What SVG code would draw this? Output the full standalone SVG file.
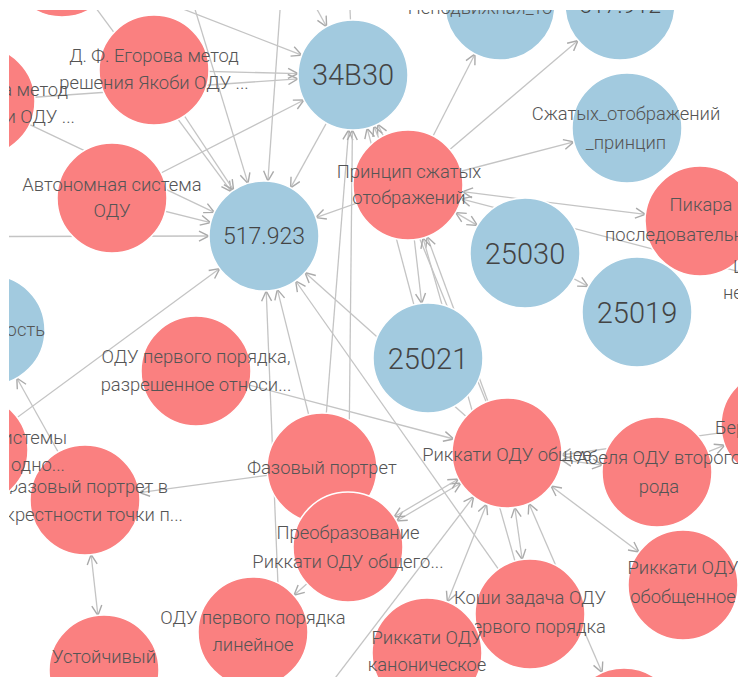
<svg xmlns="http://www.w3.org/2000/svg" width="738" height="677" viewBox="0 0 738 677">
<style>
.e{stroke:#c4c4c4;stroke-width:1.3;fill:none}
.a{marker-end:url(#ar)}
.b{marker-start:url(#ar);marker-end:url(#ar)}
.r{fill:#fa8080;stroke:#fff;stroke-width:1.5}
.u{fill:#a2cadf;stroke:#fff;stroke-width:1.5}
text{font-family:Roboto,"Liberation Sans",sans-serif;fill:#555;font-weight:300}
.t{font-size:18.4px;text-anchor:middle}
.s{font-size:18.4px}
.n{font-size:29px;text-anchor:middle;fill:#444}
.m{font-size:23px;text-anchor:middle;fill:#444}
</style>
<defs>
<marker id="ar" viewBox="0 0 12 12" refX="11" refY="6" markerWidth="12" markerHeight="12" markerUnits="userSpaceOnUse" orient="auto-start-reverse">
<path d="M1,1 L11,6 L1,11" fill="none" stroke="#aaa" stroke-width="1.4"/>
</marker>
<clipPath id="c"><rect x="9" y="10" width="729" height="667"/></clipPath>
</defs>
<rect width="738" height="677" fill="#fff"/>
<g clip-path="url(#c)">
<g id="edges">
<line class="e a" x1="62" y1="-38" x2="231.4" y2="191.7"/>
<line class="e a" x1="62" y1="-38" x2="301.7" y2="55.1"/>
<line class="e a" x1="180" y1="-40" x2="248" y2="183.4"/>
<line class="e a" x1="285" y1="-60" x2="267.9" y2="181.1"/>
<line class="e a" x1="353" y1="75" x2="290.6" y2="187.9"/>
<line class="e a" x1="290" y1="-40" x2="326.6" y2="26.8"/>
<line class="e a" x1="154" y1="70" x2="298" y2="73.6"/>
<line class="e a" x1="-20" y1="101" x2="298.1" y2="78.8"/>
<line class="e a" x1="112" y1="198" x2="304" y2="100"/>
<line class="e a" x1="154" y1="70" x2="233.6" y2="190.2"/>
<line class="e a" x1="-20" y1="101" x2="214.3" y2="212.4"/>
<line class="e a" x1="112" y1="198" x2="210.6" y2="222.7"/>
<line class="e a" x1="-200" y1="237" x2="209" y2="236"/>
<line class="e a" x1="-27" y1="450" x2="219.7" y2="268.6"/>
<line class="e a" x1="322" y1="468" x2="277.3" y2="289.4"/>
<line class="e a" x1="285" y1="760" x2="266.2" y2="291"/>
<line class="e a" x1="530" y1="614" x2="295.7" y2="281"/>
<line class="e a" x1="507" y1="453" x2="305" y2="272.6"/>
<line class="e a" x1="408" y1="185" x2="315.8" y2="217.6"/>
<line class="e a" x1="322" y1="468" x2="348.7" y2="129.8"/>
<line class="e a" x1="348" y1="547" x2="352.4" y2="130"/>
<line class="e a" x1="408" y1="185" x2="377.6" y2="124.2"/>
<line class="e a" x1="428" y1="358" x2="367.1" y2="128.2"/>
<line class="e a" x1="507" y1="453" x2="373.8" y2="125.9"/>
<line class="e" x1="353" y1="75" x2="345" y2="-100"/>
<line class="e a" x1="408" y1="185" x2="475" y2="54"/>
<line class="e a" x1="408" y1="185" x2="578" y2="40.6"/>
<line class="e a" x1="408" y1="185" x2="573.8" y2="141.9"/>
<line class="e b" x1="462.6" y1="191.7" x2="645.4" y2="214.3"/>
<line class="e a" x1="790" y1="285" x2="461.2" y2="198.9"/>
<line class="e b" x1="455.6" y1="212.6" x2="477.4" y2="225.4"/>
<line class="e a" x1="408" y1="185" x2="421.7" y2="303.4"/>
<line class="e a" x1="507" y1="453" x2="427.1" y2="236.6"/>
<line class="e a" x1="530" y1="614" x2="423" y2="237.9"/>
<line class="e a" x1="525" y1="253" x2="588.3" y2="286.4"/>
<line class="e b" x1="561.6" y1="459.9" x2="602.4" y2="465.1"/>
<line class="e a" x1="776" y1="425" x2="561.3" y2="455"/>
<line class="e b" x1="551" y1="486" x2="639" y2="552"/>
<line class="e b" x1="461" y1="483" x2="396.6" y2="521"/>
<line class="e b" x1="458.4" y1="479" x2="394" y2="517"/>
<line class="e b" x1="486.6" y1="504" x2="447.4" y2="601.9"/>
<line class="e b" x1="514.8" y1="507.5" x2="522.2" y2="559.5"/>
<line class="e a" x1="300" y1="724" x2="473.6" y2="496.7"/>
<line class="e b" x1="528.9" y1="503.4" x2="602.1" y2="672.6"/>
<line class="e a" x1="322" y1="468" x2="139.5" y2="492.6"/>
<line class="e a" x1="85" y1="500" x2="16.8" y2="378"/>
<line class="e b" x1="91.1" y1="554.6" x2="97.9" y2="615.4"/>
<line class="e a" x1="348" y1="547" x2="294" y2="595.3"/>
<line class="e a" x1="196" y1="371" x2="453.8" y2="439"/>
<line class="e a" x1="657" y1="472" x2="724.8" y2="445.2"/>
</g>
<g id="n-tl"><circle class="r" cx="62" cy="-38" r="55"/></g>
<g id="n-lm"><circle class="r" cx="-20" cy="101" r="55"/>
<text class="s" x="68" y="96" text-anchor="end">а метод</text>
<text class="s" x="75" y="123" text-anchor="end">и ОДУ ...</text></g>
<g id="n-eg"><circle class="r" cx="154" cy="70" r="55"/>
<text class="t" x="154" y="62">Д. Ф. Егорова метод</text>
<text class="t" x="154" y="89">решения Якоби ОДУ ...</text></g>
<g id="n-nt"><circle class="u" cx="500" cy="5" r="55"/>
<text class="t" x="480" y="14">Неподвижная_то</text></g>
<g id="n-912"><circle class="u" cx="620" cy="5" r="55"/>
<text class="m" x="620" y="13">517.912</text></g>
<g id="n-34b30"><circle class="u" cx="353" cy="75" r="55"/>
<text class="n" x="353" y="85">34B30</text></g>
<g id="n-sj"><circle class="u" cx="627" cy="128" r="55"/>
<text class="t" x="626" y="120">Сжатых_отображений</text>
<text class="t" x="626" y="149">_принцип</text></g>
<g id="n-av"><circle class="r" cx="112" cy="198" r="55"/>
<text class="t" x="112" y="191">Автономная система</text>
<text class="t" x="112" y="217">ОДУ</text></g>
<g id="n-923"><circle class="u" cx="264" cy="236" r="55"/>
<text class="m" x="264" y="244">517.923</text></g>
<g id="n-pr"><circle class="r" cx="408" cy="185" r="55"/>
<text class="t" x="409" y="178">Принцип сжатых</text>
<text class="t" x="409" y="204">отображений</text></g>
<g id="n-pik"><circle class="r" cx="700" cy="221" r="55"/>
<text class="t" x="701" y="211">Пикара</text>
<text class="s" x="605" y="241">последовательн</text></g>
<g id="n-sh"><text class="s" x="733" y="273">Ш</text>
<text class="s" x="723" y="299">не</text></g>
<g id="n-030"><circle class="u" cx="525" cy="253" r="55"/>
<text class="n" x="525" y="264">25030</text></g>
<g id="n-019"><circle class="u" cx="637" cy="312" r="55"/>
<text class="n" x="637" y="323">25019</text></g>
<g id="n-ost"><circle class="u" cx="-10" cy="330" r="55"/>
<text class="s" x="45" y="336" text-anchor="end">ость</text></g>
<g id="n-or"><circle class="r" cx="196" cy="371" r="55"/>
<text class="t" x="196" y="363">ОДУ первого порядка,</text>
<text class="t" x="196" y="391">разрешенное относи...</text></g>
<g id="n-021"><circle class="u" cx="428" cy="358" r="55"/>
<text class="n" x="428" y="369">25021</text></g>
<g id="n-fpo"><circle class="r" cx="85" cy="500" r="55"/>
<text class="t" x="86" y="493">Фазовый портрет в</text>
<text class="t" x="89" y="521">окрестности точки п...</text></g>
<g id="n-is"><circle class="r" cx="-27" cy="450" r="55"/>
<text class="s" x="67" y="444" text-anchor="end">истемы</text>
<text class="s" x="65" y="471" text-anchor="end">одно...</text></g>
<g id="n-fp"><circle class="r" cx="322" cy="468" r="55"/>
<text class="t" x="322" y="474">Фазовый портрет</text></g>
<g id="n-ro"><circle class="r" cx="507" cy="453" r="55"/>
<text class="t" x="507" y="461">Риккати ОДУ общее</text></g>
<g id="n-ber"><circle class="r" cx="776" cy="425" r="55"/>
<text class="s" x="715" y="434">Бер</text></g>
<g id="n-ab"><circle class="r" cx="657" cy="472" r="55"/>
<text class="t" x="659" y="464">Абеля ОДУ второго</text>
<text class="t" x="659" y="493">рода</text></g>
<g id="n-pre"><circle class="r" cx="348" cy="547" r="55"/>
<text class="t" x="348" y="539">Преобразование</text>
<text class="t" x="348" y="568">Риккати ОДУ общего...</text></g>
<g id="n-rob"><circle class="r" cx="683" cy="585" r="55"/>
<text class="t" x="683" y="574">Риккати ОДУ</text>
<text class="t" x="683" y="603">обобщенное</text></g>
<g id="n-ko"><circle class="r" cx="530" cy="614" r="55"/>
<text class="t" x="530" y="604">Коши задача ОДУ</text>
<text class="t" x="534" y="633">первого порядка</text></g>
<g id="n-ol"><circle class="r" cx="253" cy="632" r="55"/>
<text class="t" x="253" y="624">ОДУ первого порядка</text>
<text class="t" x="253" y="651">линейное</text></g>
<g id="n-rk"><circle class="r" cx="427" cy="653" r="55"/>
<text class="t" x="427" y="644">Риккати ОДУ</text>
<text class="t" x="427" y="671">каноническое</text></g>
<g id="n-ust"><circle class="r" cx="104" cy="670" r="55"/>
<text class="t" x="104" y="663">Устойчивый</text></g>
<g id="n-bot"><circle class="r" cx="624" cy="723" r="55"/></g>
</g>
</svg>
